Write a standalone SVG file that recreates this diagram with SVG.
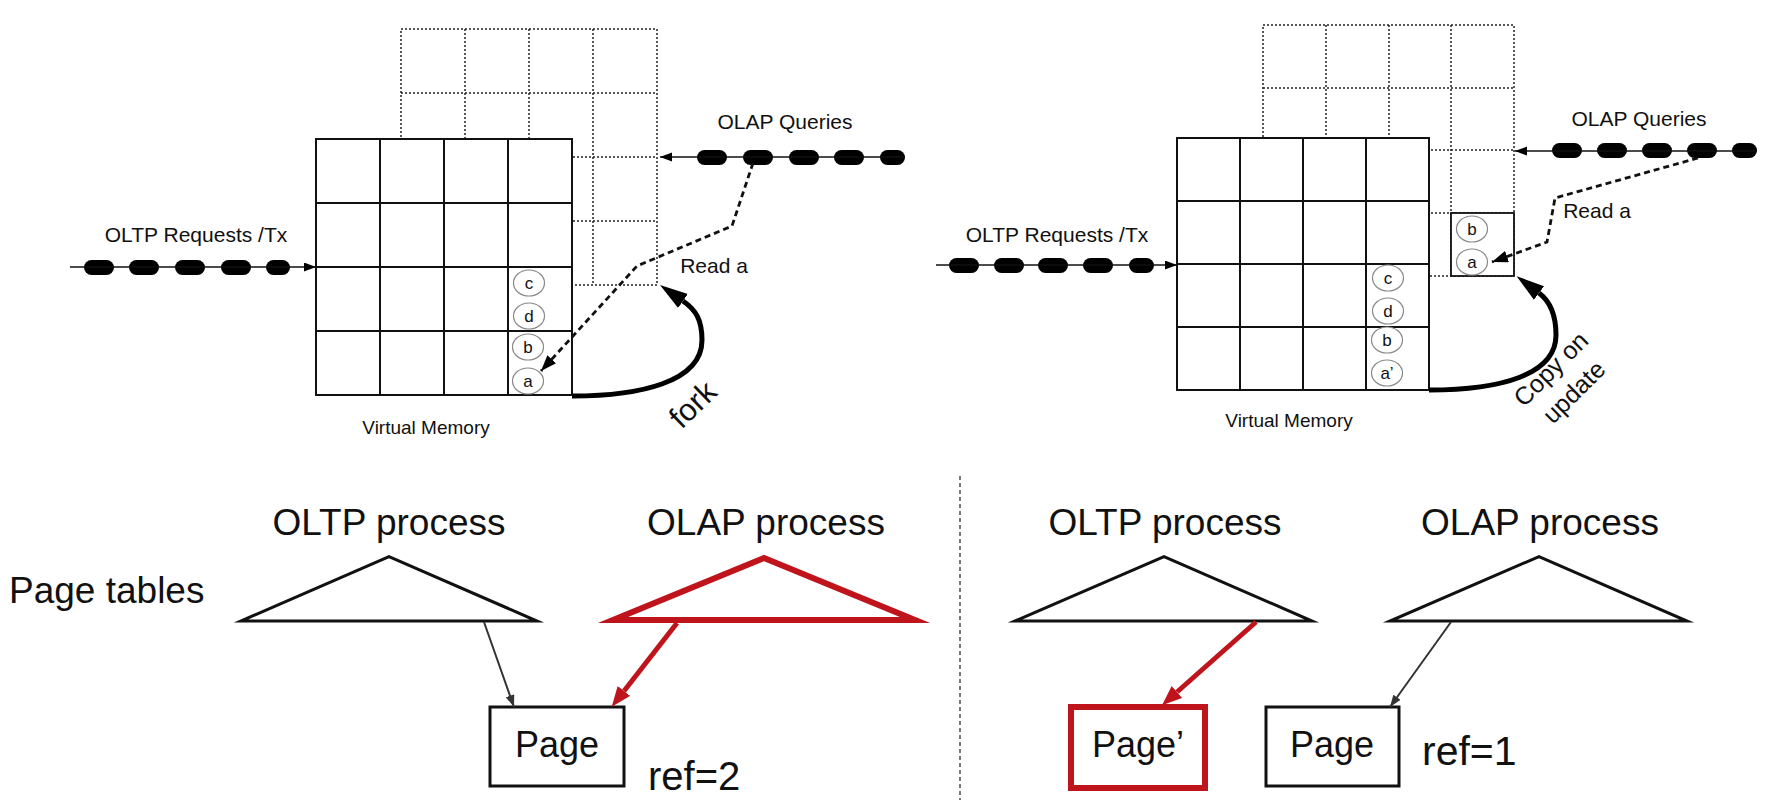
<svg xmlns="http://www.w3.org/2000/svg" width="1780" height="800" viewBox="0 0 1780 800">
<style>
text{font-family:"Liberation Sans",Arial,Helvetica,sans-serif;fill:#111}
.dot{fill:none;stroke:#222;stroke-width:1.5;stroke-dasharray:2 2}
.grid{fill:#fff;stroke:#111;stroke-width:2}
.gl{stroke:#111;stroke-width:2}
.cell{fill:#fff;stroke:#888;stroke-width:1.2}
.ct{font-size:17px;text-anchor:middle}
.lbl{font-size:21px;text-anchor:middle}
.qline{stroke:#111;stroke-width:1.5;fill:none}
.blob{fill:#000}
.rd{stroke:#111;stroke-width:2.8;fill:none;stroke-dasharray:6 4}
.fork{stroke:#000;stroke-width:5;fill:none}
.big{font-size:37px;text-anchor:middle}
.tri{fill:#fff;stroke:#111;stroke-width:3;stroke-linejoin:miter;stroke-miterlimit:10}
.trired{fill:#fff;stroke:#c0141c;stroke-width:6;stroke-linejoin:miter;stroke-miterlimit:10}
.pg{fill:#fff;stroke:#111;stroke-width:3}
.pgred{fill:#fff;stroke:#c0141c;stroke-width:6}
.thin{stroke:#333;stroke-width:2;fill:none}
.red{stroke:#c0141c;stroke-width:5;fill:none}
</style>
<defs>
<marker id="ah" markerUnits="userSpaceOnUse" markerWidth="14" markerHeight="10" refX="12" refY="4.5" orient="auto"><path d="M0,0 L12,4.5 L0,9 z" fill="#000"/></marker>
<marker id="ahd" markerUnits="userSpaceOnUse" markerWidth="18" markerHeight="14" refX="16" refY="6" orient="auto"><path d="M0,0 L16,6 L0,12 z" fill="#000"/></marker>
<marker id="ahbig" markerUnits="userSpaceOnUse" markerWidth="30" markerHeight="18" refX="0" refY="8.5" orient="auto"><path d="M0,0 L28,8.5 L0,17 z" fill="#000"/></marker>
<marker id="ahred" markerUnits="userSpaceOnUse" markerWidth="22" markerHeight="18" refX="0" refY="8" orient="auto"><path d="M0,0 L20,8 L0,16 z" fill="#c0141c"/></marker>
<marker id="ahthin" markerUnits="userSpaceOnUse" markerWidth="14" markerHeight="10" refX="12" refY="4.5" orient="auto"><path d="M0,0 L12,4.5 L0,9 z" fill="#333"/></marker>
</defs>

<!-- LEFT TOP: fork -->
<g id="left-olap-memory">
<rect class="dot" x="401" y="29" width="256" height="256"/>
<path class="dot" d="M465 29V285M529 29V285M593 29V285M401 93H657M401 157H657M401 221H657"/>
</g>
<g id="left-virtual-memory">
<rect class="grid" x="316" y="139" width="256" height="256"/>
<path class="gl" d="M380 139V395M444 139V395M508 139V395M316 203H572M316 267H572M316 331H572"/>
<ellipse class="cell" cx="529" cy="283" rx="15.5" ry="13"/><text class="ct" x="529" y="289">c</text>
<ellipse class="cell" cx="529" cy="316" rx="15.5" ry="13"/><text class="ct" x="529" y="322">d</text>
<ellipse class="cell" cx="528" cy="347" rx="15.5" ry="13"/><text class="ct" x="528" y="353">b</text>
<ellipse class="cell" cx="528" cy="381" rx="15.5" ry="13"/><text class="ct" x="528" y="387">a</text>
<text class="lbl" x="426" y="434" style="font-size:19px">Virtual Memory</text>
</g>
<g id="left-oltp-requests">
<text class="lbl" x="196" y="242">OLTP Requests /Tx</text>
<rect class="blob" x="84" y="260" width="30" height="15" rx="7.5"/>
<rect class="blob" x="129" y="260" width="30" height="15" rx="7.5"/>
<rect class="blob" x="175" y="260" width="30" height="15" rx="7.5"/>
<rect class="blob" x="221" y="260" width="30" height="15" rx="7.5"/>
<rect class="blob" x="266" y="260" width="24" height="15" rx="7.5"/>
</g>
<g id="left-olap-queries">
<text class="lbl" x="785" y="129">OLAP Queries</text>
<rect class="blob" x="697" y="150" width="30" height="15" rx="7.5"/>
<rect class="blob" x="743" y="150" width="30" height="15" rx="7.5"/>
<rect class="blob" x="789" y="150" width="30" height="15" rx="7.5"/>
<rect class="blob" x="834" y="150" width="30" height="15" rx="7.5"/>
<rect class="blob" x="880" y="150" width="25" height="15" rx="7.5"/>
</g>

<!-- RIGHT TOP: copy on update -->
<g id="right-olap-memory">
<rect class="dot" x="1263" y="25" width="251" height="251"/>
<path class="dot" d="M1326 25V276M1389 25V276M1451 25V276M1263 88H1514M1263 150H1514M1263 213H1514"/>
</g>
<g id="right-virtual-memory">
<rect class="grid" x="1177" y="138" width="252" height="252"/>
<path class="gl" d="M1240 138V390M1303 138V390M1366 138V390M1177 201H1429M1177 264H1429M1177 327H1429"/>
<ellipse class="cell" cx="1388" cy="278" rx="15.5" ry="13"/><text class="ct" x="1388" y="284">c</text>
<ellipse class="cell" cx="1388" cy="311" rx="15.5" ry="13"/><text class="ct" x="1388" y="317">d</text>
<ellipse class="cell" cx="1387" cy="340" rx="15.5" ry="13"/><text class="ct" x="1387" y="346">b</text>
<ellipse class="cell" cx="1387" cy="373" rx="15.5" ry="13"/><text class="ct" x="1387" y="379">a’</text>
<text class="lbl" x="1289" y="427" style="font-size:19px">Virtual Memory</text>
</g>
<g id="right-copied-page">
<rect class="grid" x="1451" y="213" width="63" height="63" style="stroke-width:1.8"/>
<ellipse class="cell" cx="1472" cy="229" rx="15.5" ry="13"/><text class="ct" x="1472" y="235">b</text>
<ellipse class="cell" cx="1472" cy="262" rx="15.5" ry="13"/><text class="ct" x="1472" y="268">a</text>
</g>
<g id="right-oltp-requests">
<text class="lbl" x="1057" y="242">OLTP Requests /Tx</text>
<rect class="blob" x="949" y="258" width="30" height="15" rx="7.5"/>
<rect class="blob" x="994" y="258" width="30" height="15" rx="7.5"/>
<rect class="blob" x="1038" y="258" width="30" height="15" rx="7.5"/>
<rect class="blob" x="1083" y="258" width="30" height="15" rx="7.5"/>
<rect class="blob" x="1129" y="258" width="25" height="15" rx="7.5"/>
</g>
<g id="right-olap-queries">
<text class="lbl" x="1639" y="126">OLAP Queries</text>
<rect class="blob" x="1552" y="143" width="30" height="15" rx="7.5"/>
<rect class="blob" x="1597" y="143" width="30" height="15" rx="7.5"/>
<rect class="blob" x="1642" y="143" width="30" height="15" rx="7.5"/>
<rect class="blob" x="1687" y="143" width="30" height="15" rx="7.5"/>
<rect class="blob" x="1732" y="143" width="25" height="15" rx="7.5"/>
</g>

<!-- BOTTOM -->
<g id="page-tables-label"><text x="9" y="603" style="font-size:37px">Page tables</text></g>
<g id="left-oltp-process">
<text class="big" x="389" y="535">OLTP process</text>
<polygon class="tri" points="389,556.6 241,621 537,621"/>
</g>
<g id="left-olap-process">
<text class="big" x="766" y="535">OLAP process</text>
<polygon class="trired" points="764,558 613,620 915,620"/>
</g>
<g id="left-page">
<rect class="pg" x="490" y="707" width="134" height="79"/>
<text x="557" y="757" style="font-size:36px;text-anchor:middle">Page</text>
<text x="648" y="790" style="font-size:40px">ref=2</text>
</g>
<g id="right-oltp-process">
<text class="big" x="1165" y="535">OLTP process</text>
<polygon class="tri" points="1164,556.6 1015,621 1312,621"/>
</g>
<g id="right-olap-process">
<text class="big" x="1540" y="535">OLAP process</text>
<polygon class="tri" points="1539,556.6 1390,621 1687,621"/>
</g>
<g id="right-page-copy">
<rect class="pgred" x="1071" y="707" width="134" height="81"/>
<text x="1138" y="757" style="font-size:36px;text-anchor:middle">Page’</text>
</g>
<g id="right-page">
<rect class="pg" x="1266" y="707" width="133" height="79"/>
<text x="1332" y="757" style="font-size:36px;text-anchor:middle">Page</text>
<text x="1422" y="765" style="font-size:41px">ref=1</text>
</g>

<g id="connectors">
<!-- request streams -->
<path class="qline" d="M70 267H316" marker-end="url(#ah)"/>
<path class="qline" d="M905 157H660" marker-end="url(#ah)"/>
<path class="qline" d="M936 265H1177" marker-end="url(#ah)"/>
<path class="qline" d="M1757 151H1515" marker-end="url(#ah)"/>
<!-- read a -->
<path class="rd" d="M753 163 L732 226 L637 266 L541 371" marker-end="url(#ahd)"/>
<text class="lbl" x="714" y="273">Read a</text>
<path class="rd" d="M1698 158 L1555 198 L1547 242 L1492 262" marker-end="url(#ahd)"/>
<text class="lbl" x="1597" y="218">Read a</text>
<!-- fork / copy on update -->
<path class="fork" d="M572 396 C640 396 702 382 702 340 C702 320 696 310 683 301" marker-end="url(#ahbig)"/>
<text transform="translate(700 412) rotate(-44)" style="font-size:31px;text-anchor:middle">fork</text>
<path class="fork" d="M1429 390 C1500 390 1556 375 1556 335 C1556 315 1551 302 1539 293" marker-end="url(#ahbig)"/>
<text transform="translate(1557 375) rotate(-45)" style="font-size:25px;text-anchor:middle">Copy on</text>
<text transform="translate(1580 398) rotate(-45)" style="font-size:25px;text-anchor:middle">update</text>
<!-- page table pointers -->
<path class="thin" d="M484 622 L514 707" marker-end="url(#ahthin)"/>
<path class="red" d="M677 623 L624 691" marker-end="url(#ahred)"/>
<path class="red" d="M1256 622 L1177 692" marker-end="url(#ahred)"/>
<path class="thin" d="M1451 622 L1390 707" marker-end="url(#ahthin)"/>
<!-- divider -->
<path d="M960 476V800" stroke="#333" stroke-width="1.3" stroke-dasharray="4 3"/>
</g>
</svg>
